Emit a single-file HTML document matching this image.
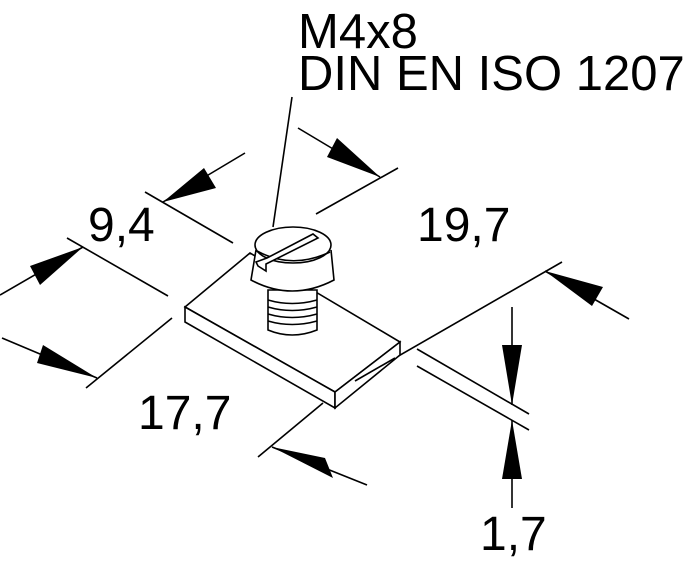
<!DOCTYPE html>
<html><head><style>
html,body{margin:0;padding:0;background:#fff;}
svg{display:block;}
text{font-family:"Liberation Sans",sans-serif;fill:#000;}
</style></head><body>
<svg width="691" height="561" viewBox="0 0 691 561" xmlns="http://www.w3.org/2000/svg">
<g stroke="#000" stroke-width="1.6" fill="none" stroke-linecap="butt">
<line x1="292" y1="97" x2="273" y2="227"/>
<line x1="245" y1="153" x2="163" y2="202"/>
<line x1="145" y1="192" x2="233" y2="243"/>
<line x1="67" y1="238" x2="168" y2="296"/>
<line x1="0" y1="295" x2="83" y2="247"/>
<line x1="172" y1="318" x2="86" y2="388"/>
<line x1="2" y1="338" x2="97" y2="378"/>
<line x1="323" y1="403" x2="258" y2="457"/>
<line x1="272" y1="447" x2="367" y2="485"/>
<line x1="298" y1="128" x2="380" y2="177"/>
<line x1="316" y1="214" x2="398" y2="168"/>
<line x1="562" y1="262" x2="355" y2="381"/>
<line x1="545" y1="271" x2="629" y2="319"/>
<line x1="417" y1="349" x2="529" y2="414"/>
<line x1="417" y1="366" x2="529" y2="430"/>
<line x1="512" y1="307" x2="512" y2="405"/>
<line x1="512" y1="420" x2="512" y2="508"/>
<polygon points="185,307 250,253 400,342 335,392" fill="#fff"/>
<polygon points="185,307 335,392 335,408 185,322" fill="#fff"/>
<polygon points="335,392 400,342 400,355 335,408" fill="#fff"/>
<line x1="355" y1="381" x2="395" y2="358"/>
<path d="M268,290 L268,330 Q292,340 317,330 L317,290 Z" fill="#fff"/>
<path d="M268,300 Q292,307 317,300 M268,307 Q292,314 317,307 M268,314 Q292,321 317,314 M268,321 Q292,328 317,321"/>
<path d="M256,250 L251,280 Q292,302 334,280 L331,250" fill="#fff"/>
<ellipse cx="293" cy="245" rx="38" ry="18" fill="#fff"/>
<path d="M257,251 Q292,270 330,252"/>
<path d="M256,262 L267,258 L313,234 L318,238 L266,264 L266,271 L258,266 Z" fill="#fff"/>
</g>
<g fill="#000" stroke="none">
<polygon points="163,202 204,168 216,188"/>
<polygon points="83,247 30,266 40,285"/>
<polygon points="97,378 43,345 37,363"/>
<polygon points="272,447 325,458 333,478"/>
<polygon points="380,177 337,138 327,157"/>
<polygon points="545,271 603,287 592,306"/>
<polygon points="512,405 502,345 522,345"/>
<polygon points="512,420 502,479 522,479"/>
</g>
<text x="298" y="48" font-size="49">M4x8</text>
<text x="298" y="90" font-size="49">DIN EN ISO 1207</text>
<text x="88" y="241" font-size="48">9,4</text>
<text x="417" y="241" font-size="48">19,7</text>
<text x="138" y="429" font-size="48">17,7</text>
<text x="480" y="550" font-size="48">1,7</text>
</svg>
</body></html>
